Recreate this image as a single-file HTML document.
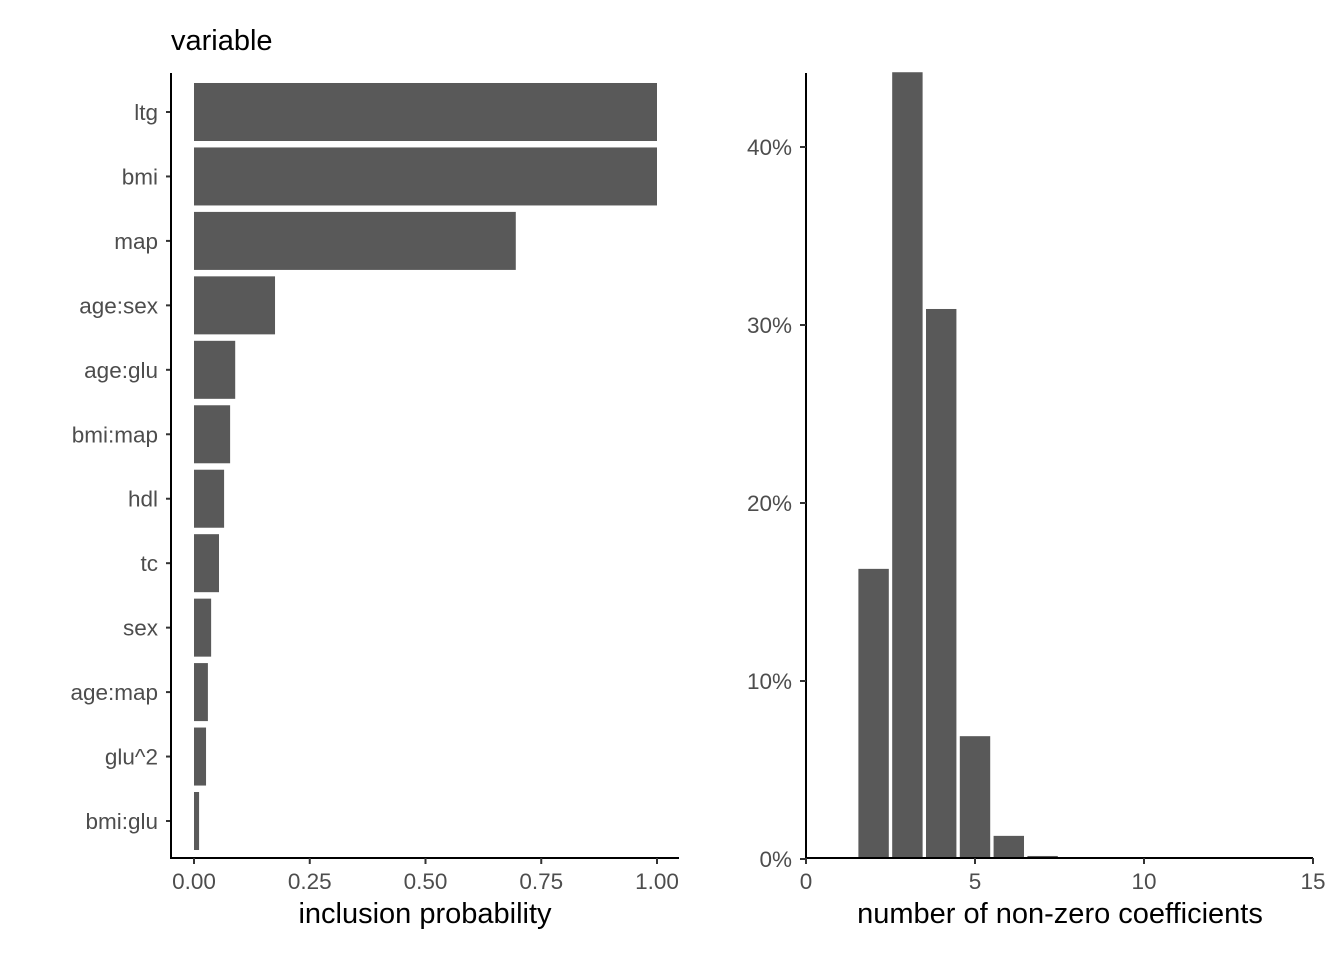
<!DOCTYPE html>
<html><head><meta charset="utf-8"><style>
html,body{margin:0;padding:0;background:#fff;}
svg{display:block;font-family:"Liberation Sans",sans-serif;}
.tick{font-size:22.5px;fill:#4d4d4d;}
.title{font-size:29px;fill:#000;}
</style></head><body>
<svg id="chart" width="1344" height="960">
<g id="left"></g>
<g id="right"></g>
</svg>
<script>
const varNames=["ltg","bmi","map","age:sex","age:glu","bmi:map","hdl","tc","sex","age:map","glu^2","bmi:glu"];
const incProb=[1.0,1.0,0.695,0.175,0.089,0.078,0.065,0.054,0.037,0.030,0.026,0.011];
const xTicksL=[0,0.25,0.5,0.75,1.0];
const xTickLabelsL=["0.00","0.25","0.50","0.75","1.00"];
const nCoef=[2,3,4,5,6,7];
const pctCoef=[0.163,0.442,0.309,0.069,0.013,0.0017];
const xTicksR=[0,5,10,15];
const yTicksR=[0,0.1,0.2,0.3,0.4];
const yTickLabelsR=["0%","10%","20%","30%","40%"];
const NS="http://www.w3.org/2000/svg";
function mk(p,t,a,txt){const e=document.createElementNS(NS,t);for(const k in a)e.setAttribute(k,a[k]);if(txt!=null)e.textContent=txt;p.appendChild(e);return e;}
// left
const L=document.getElementById('left');
const xL=v=>194+v*463;
const step=(821-112)/(varNames.length-1);
const yL=i=>112+i*step;
varNames.forEach((n,i)=>{
 const b=mk(L,'rect',{x:xL(0),y:yL(i)-step*0.45,width:xL(incProb[i])-xL(0),height:step*0.9,fill:'#595959'});
 
 
 mk(L,'line',{x1:166,x2:171,y1:yL(i),y2:yL(i),stroke:'#333','stroke-width':2});
 const t=mk(L,'text',{x:158,y:yL(i)+8,'text-anchor':'end',class:'tick'},n);
 
 
});
mk(L,'line',{x1:171,x2:171,y1:73,y2:859,stroke:'#000','stroke-width':2});
mk(L,'line',{x1:170,x2:679,y1:858,y2:858,stroke:'#000','stroke-width':2});
xTicksL.forEach((v,i)=>{
 mk(L,'line',{x1:xL(v),x2:xL(v),y1:858,y2:864,stroke:'#333','stroke-width':2});
 const t=mk(L,'text',{x:xL(v),y:889,'text-anchor':'middle',class:'tick'},xTickLabelsL[i]);
 
 
});
let t=mk(L,'text',{x:171,y:50,class:'title'},'variable');

t=mk(L,'text',{x:425,y:923,'text-anchor':'middle',class:'title'},'inclusion probability');

// right
const R=document.getElementById('right');
const xR=v=>806+v*33.8;
const yR=v=>859-v*1780;
nCoef.forEach((n,i)=>{
 const b=mk(R,'rect',{x:xR(n-0.45),y:yR(pctCoef[i]),width:xR(0.9)-xR(0),height:yR(0)-yR(pctCoef[i]),fill:'#595959'});
 
 
});
mk(R,'line',{x1:806,x2:806,y1:73,y2:859,stroke:'#000','stroke-width':2});
mk(R,'line',{x1:805,x2:1313,y1:858,y2:858,stroke:'#000','stroke-width':2});
yTicksR.forEach((v,i)=>{
 mk(R,'line',{x1:800,x2:806,y1:yR(v),y2:yR(v),stroke:'#333','stroke-width':2});
 const t=mk(R,'text',{x:792,y:yR(v)+8,'text-anchor':'end',class:'tick'},yTickLabelsR[i]);
 
 
});
xTicksR.forEach(v=>{
 mk(R,'line',{x1:xR(v),x2:xR(v),y1:858,y2:864,stroke:'#333','stroke-width':2});
 const t=mk(R,'text',{x:xR(v),y:889,'text-anchor':'middle',class:'tick'},String(v));
 
 
});
t=mk(R,'text',{x:1060,y:923,'text-anchor':'middle',class:'title'},'number of non-zero coefficients');

</script>
</body></html>
